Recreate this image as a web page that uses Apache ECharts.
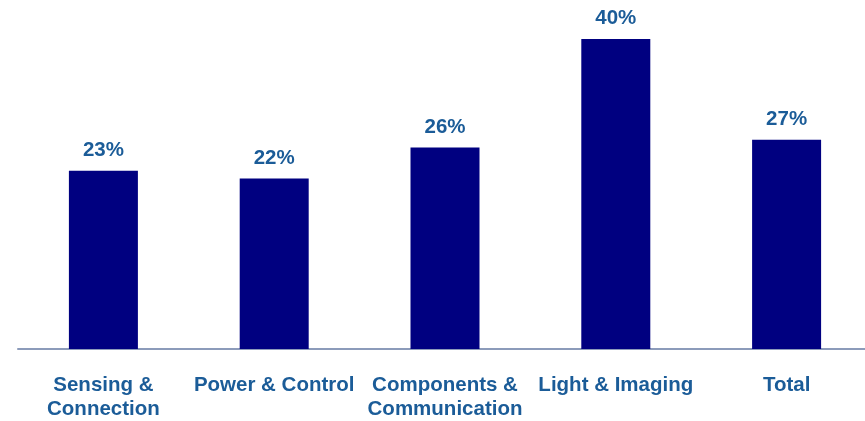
<!DOCTYPE html>
<html>
<head>
<meta charset="utf-8">
<style>
  html, body { margin: 0; padding: 0; background: #ffffff; }
  #chart { width: 865px; height: 421px; }
</style>
<script src="https://cdn.jsdelivr.net/npm/echarts@6/dist/echarts.min.js"></script>
</head>
<body>
<div id="chart"></div>
<script>
// Segment categories and their share values (%)
const categories = ['Sensing &\nConnection', 'Power & Control', 'Components &\nCommunication', 'Light & Imaging', 'Total'];
const shares = [23, 22, 26, 40, 27];

const chart = echarts.init(document.getElementById('chart'), null, { renderer: 'canvas' });

const textFont = '"Liberation Sans", Arial, sans-serif';

chart.setOption({
  animation: false,
  backgroundColor: '#ffffff',
  grid: { left: 18, width: 854, top: 39, bottom: 72, containLabel: false, outerBoundsMode: 'none' },
  xAxis: {
    type: 'category',
    data: categories,
    axisTick: { show: false },
    axisLine: { show: true, lineStyle: { color: '#8C9BBA', width: 2 } },
    axisLabel: {
      interval: 0,
      margin: 24,
      lineHeight: 24,
      color: '#1B5C98',
      fontFamily: textFont,
      fontWeight: 'bold',
      fontSize: 20.5
    }
  },
  yAxis: {
    type: 'value',
    min: 0,
    max: 40,
    show: false,
    splitLine: { show: false }
  },
  series: [{
    type: 'bar',
    data: shares,
    barWidth: 69,
    itemStyle: { color: '#000080' },
    label: {
      show: true,
      position: 'top',
      distance: 10,
      formatter: '{c}%',
      color: '#1B5C98',
      fontFamily: textFont,
      fontWeight: 'bold',
      fontSize: 20.5
    }
  }]
});
</script>
</body>
</html>
